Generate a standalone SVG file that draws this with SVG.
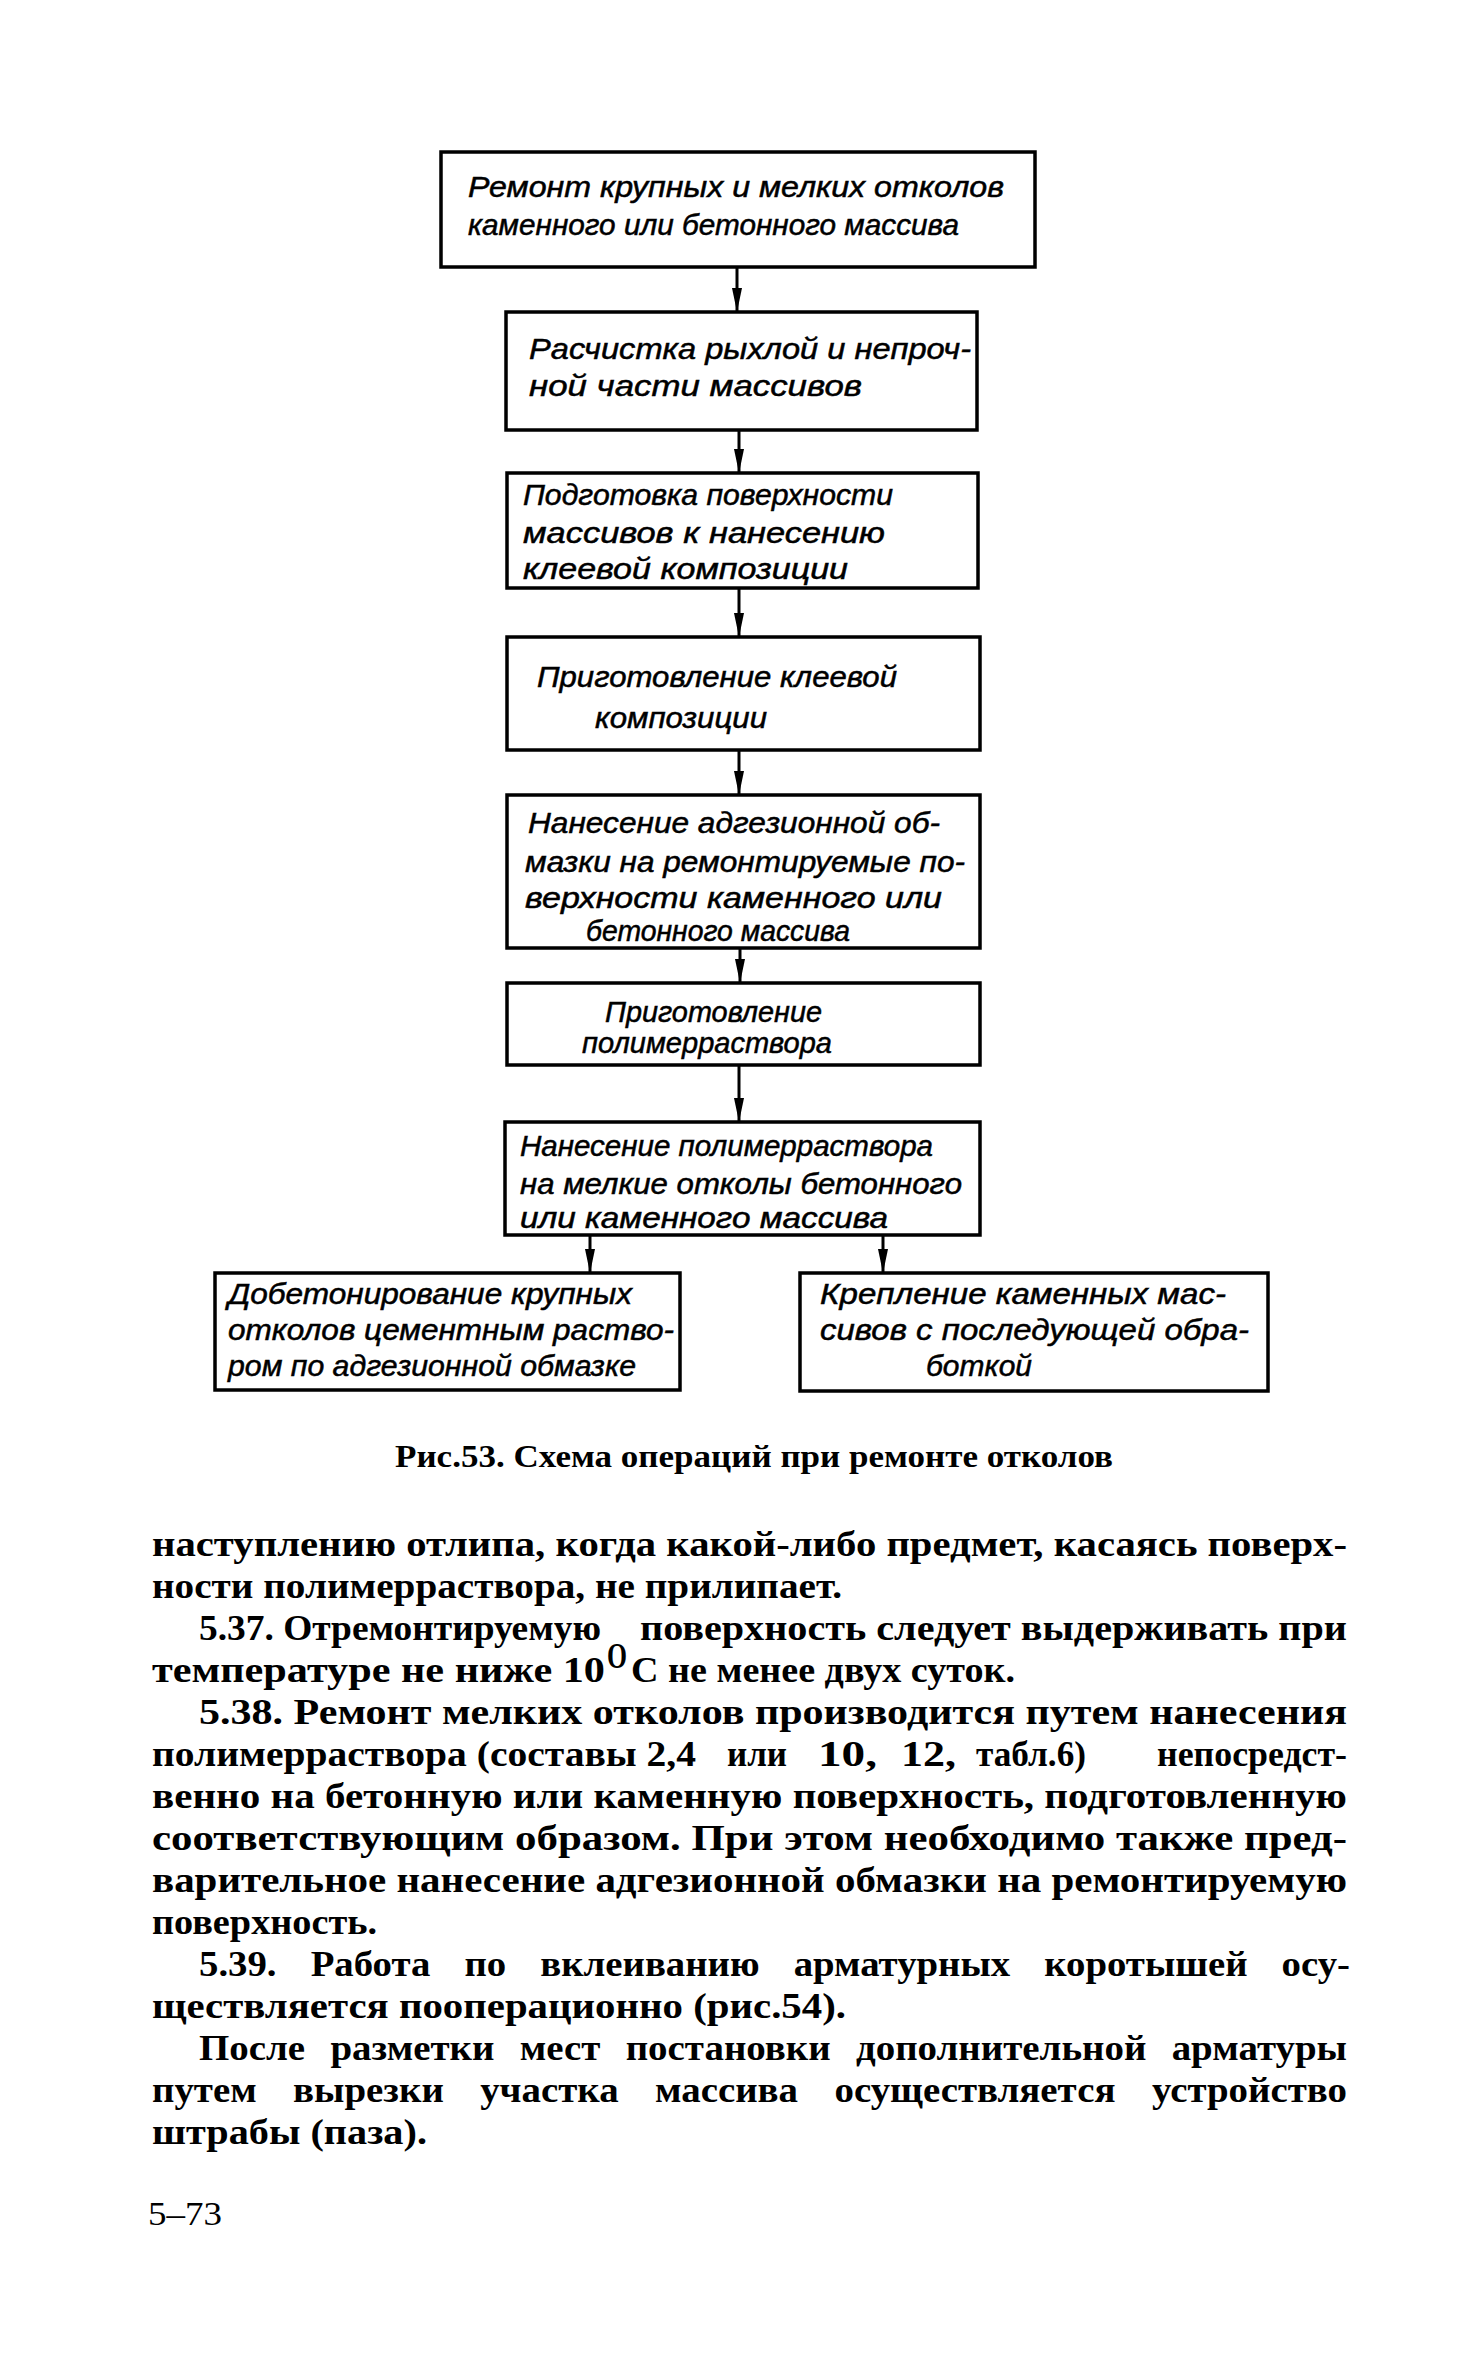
<svg xmlns="http://www.w3.org/2000/svg" width="1477" height="2362" viewBox="0 0 1477 2362">
<style>
.box{fill:#fff;stroke:#000;stroke-width:3.5}
.bt{font-family:"Liberation Sans","DejaVu Sans",sans-serif;font-style:italic;font-size:29px;fill:#000;stroke:#000;stroke-width:0.5}
.cn{stroke:#000;stroke-width:3;fill:none}
.body{font-family:"Liberation Serif","DejaVu Serif",serif;font-weight:bold;font-size:35px;fill:#000}
.cap{font-family:"Liberation Serif","DejaVu Serif",serif;font-weight:bold;font-size:31px;fill:#000}
.pg{font-family:"Liberation Serif","DejaVu Serif",serif;font-size:34px;fill:#000}
</style>
<defs>
<marker id="ah" markerWidth="24" markerHeight="10" refX="23" refY="5" orient="auto" markerUnits="userSpaceOnUse" viewBox="0 0 24 10">
<path d="M0,0 L24,5 L0,10 Z" fill="#000"/>
</marker>
</defs>
<rect width="1477" height="2362" fill="#fff"/>

<g id="connectors">
<line class="cn" x1="737" y1="267" x2="737" y2="311" marker-end="url(#ah)"/>
<line class="cn" x1="739" y1="430" x2="739" y2="472" marker-end="url(#ah)"/>
<line class="cn" x1="739" y1="588" x2="739" y2="636" marker-end="url(#ah)"/>
<line class="cn" x1="739" y1="750" x2="739" y2="794" marker-end="url(#ah)"/>
<line class="cn" x1="740" y1="948" x2="740" y2="982" marker-end="url(#ah)"/>
<line class="cn" x1="739" y1="1065" x2="739" y2="1121" marker-end="url(#ah)"/>
<line class="cn" x1="590" y1="1235" x2="590" y2="1272" marker-end="url(#ah)"/>
<line class="cn" x1="883" y1="1235" x2="883" y2="1272" marker-end="url(#ah)"/>
</g>

<g id="n1">
<rect class="box" x="441" y="152" width="594" height="115"/>
<text class="bt" x="468" y="197" textLength="536" lengthAdjust="spacingAndGlyphs">Ремонт  крупных и мелких  отколов</text>
<text class="bt" x="468" y="235" textLength="491" lengthAdjust="spacingAndGlyphs">каменного или бетонного массива</text>
</g>

<g id="n2">
<rect class="box" x="506" y="312" width="471" height="118"/>
<text class="bt" x="529" y="359" textLength="442" lengthAdjust="spacingAndGlyphs">Расчистка рыхлой и непроч-</text>
<text class="bt" x="529" y="396" textLength="333" lengthAdjust="spacingAndGlyphs">ной  части  массивов</text>
</g>

<g id="n3">
<rect class="box" x="507" y="473" width="471" height="115"/>
<text class="bt" x="523" y="505" textLength="370" lengthAdjust="spacingAndGlyphs">Подготовка поверхности</text>
<text class="bt" x="523" y="543" textLength="362" lengthAdjust="spacingAndGlyphs">массивов  к  нанесению</text>
<text class="bt" x="523" y="579" textLength="325" lengthAdjust="spacingAndGlyphs">клеевой  композиции</text>
</g>

<g id="n4">
<rect class="box" x="507" y="637" width="473" height="113"/>
<text class="bt" x="537" y="687" textLength="360" lengthAdjust="spacingAndGlyphs">Приготовление  клеевой</text>
<text class="bt" x="595" y="728" textLength="172" lengthAdjust="spacingAndGlyphs">композиции</text>
</g>

<g id="n5">
<rect class="box" x="507" y="795" width="473" height="153"/>
<text class="bt" x="528" y="833" textLength="412" lengthAdjust="spacingAndGlyphs">Нанесение  адгезионной  об-</text>
<text class="bt" x="525" y="872" textLength="440" lengthAdjust="spacingAndGlyphs">мазки на ремонтируемые по-</text>
<text class="bt" x="525" y="908" textLength="417" lengthAdjust="spacingAndGlyphs">верхности  каменного  или</text>
<text class="bt" x="586" y="941" textLength="264" lengthAdjust="spacingAndGlyphs">бетонного массива</text>
</g>

<g id="n6">
<rect class="box" x="507" y="983" width="473" height="82"/>
<text class="bt" x="605" y="1022" textLength="217" lengthAdjust="spacingAndGlyphs">Приготовление</text>
<text class="bt" x="582" y="1053" textLength="250" lengthAdjust="spacingAndGlyphs">полимерраствора</text>
</g>

<g id="n7">
<rect class="box" x="505" y="1122" width="475" height="113"/>
<text class="bt" x="520" y="1156" textLength="413" lengthAdjust="spacingAndGlyphs">Нанесение  полимерраствора</text>
<text class="bt" x="520" y="1194" textLength="442" lengthAdjust="spacingAndGlyphs">на  мелкие  отколы  бетонного</text>
<text class="bt" x="520" y="1228" textLength="368" lengthAdjust="spacingAndGlyphs">или  каменного  массива</text>
</g>

<g id="n8">
<rect class="box" x="215" y="1273" width="465" height="117"/>
<text class="bt" x="228" y="1304" textLength="404" lengthAdjust="spacingAndGlyphs">Добетонирование  крупных</text>
<text class="bt" x="228" y="1340" textLength="446" lengthAdjust="spacingAndGlyphs">отколов  цементным раство-</text>
<text class="bt" x="228" y="1376" textLength="408" lengthAdjust="spacingAndGlyphs">ром по адгезионной обмазке</text>
</g>

<g id="n9">
<rect class="box" x="800" y="1273" width="468" height="118"/>
<text class="bt" x="820" y="1304" textLength="406" lengthAdjust="spacingAndGlyphs">Крепление каменных  мас-</text>
<text class="bt" x="820" y="1340" textLength="429" lengthAdjust="spacingAndGlyphs">сивов с последующей обра-</text>
<text class="bt" x="926" y="1376" textLength="106" lengthAdjust="spacingAndGlyphs">боткой</text>
</g>

<text class="cap" x="395" y="1467" textLength="718" lengthAdjust="spacingAndGlyphs">Рис.53. Схема операций при ремонте отколов</text>

<g id="body">
<text class="body" x="152" y="1556" textLength="1195" lengthAdjust="spacingAndGlyphs">наступлению отлипа, когда какой-либо предмет, касаясь поверх-</text>
<text class="body" x="152" y="1598" textLength="690" lengthAdjust="spacingAndGlyphs">ности полимерраствора, не прилипает.</text>
<text class="body" x="199" y="1640" textLength="402" lengthAdjust="spacingAndGlyphs">5.37. Отремонтируемую</text>
<text class="body" x="640" y="1640" textLength="707" lengthAdjust="spacingAndGlyphs">поверхность следует выдерживать при</text>
<text class="body" x="152" y="1682" textLength="453" lengthAdjust="spacingAndGlyphs">температуре не ниже 10</text>
<text class="body" x="607" y="1668" font-size="19" textLength="20" lengthAdjust="spacingAndGlyphs">О</text>
<text class="body" x="631" y="1682" textLength="384" lengthAdjust="spacingAndGlyphs">С не менее двух суток.</text>
<text class="body" x="199" y="1724" textLength="1148" lengthAdjust="spacingAndGlyphs">5.38. Ремонт мелких отколов производится путем нанесения</text>
<text class="body" x="152" y="1766" textLength="544" lengthAdjust="spacingAndGlyphs">полимерраствора (составы 2,4</text>
<text class="body" x="727" y="1766" textLength="60" lengthAdjust="spacingAndGlyphs">или</text>
<text class="body" x="818" y="1766" textLength="59" lengthAdjust="spacingAndGlyphs">10,</text>
<text class="body" x="901" y="1766" textLength="55" lengthAdjust="spacingAndGlyphs">12,</text>
<text class="body" x="976" y="1766" textLength="110" lengthAdjust="spacingAndGlyphs">табл.6)</text>
<text class="body" x="1157" y="1766" textLength="190" lengthAdjust="spacingAndGlyphs">непосредст-</text>
<text class="body" x="152" y="1808" textLength="1195" lengthAdjust="spacingAndGlyphs">венно на бетонную или каменную поверхность, подготовленную</text>
<text class="body" x="152" y="1850" textLength="1195" lengthAdjust="spacingAndGlyphs">соответствующим образом. При этом необходимо также пред-</text>
<text class="body" x="152" y="1892" textLength="1195" lengthAdjust="spacingAndGlyphs">варительное нанесение адгезионной обмазки на ремонтируемую</text>
<text class="body" x="152" y="1934" textLength="225" lengthAdjust="spacingAndGlyphs">поверхность.</text>
<text class="body" x="199" y="1976" textLength="1151" lengthAdjust="spacingAndGlyphs" word-spacing="22">5.39. Работа по вклеиванию арматурных коротышей осу-</text>
<text class="body" x="152" y="2018" textLength="694" lengthAdjust="spacingAndGlyphs">ществляется пооперационно (рис.54).</text>
<text class="body" x="199" y="2060" textLength="1148" lengthAdjust="spacingAndGlyphs" word-spacing="14">После разметки мест постановки дополнительной арматуры</text>
<text class="body" x="152" y="2102" textLength="1195" lengthAdjust="spacingAndGlyphs" word-spacing="24">путем вырезки участка массива осуществляется устройство</text>
<text class="body" x="152" y="2144" textLength="275" lengthAdjust="spacingAndGlyphs">штрабы (паза).</text>
</g>

<text class="pg" x="148" y="2225" textLength="74" lengthAdjust="spacingAndGlyphs">5–73</text>
</svg>
